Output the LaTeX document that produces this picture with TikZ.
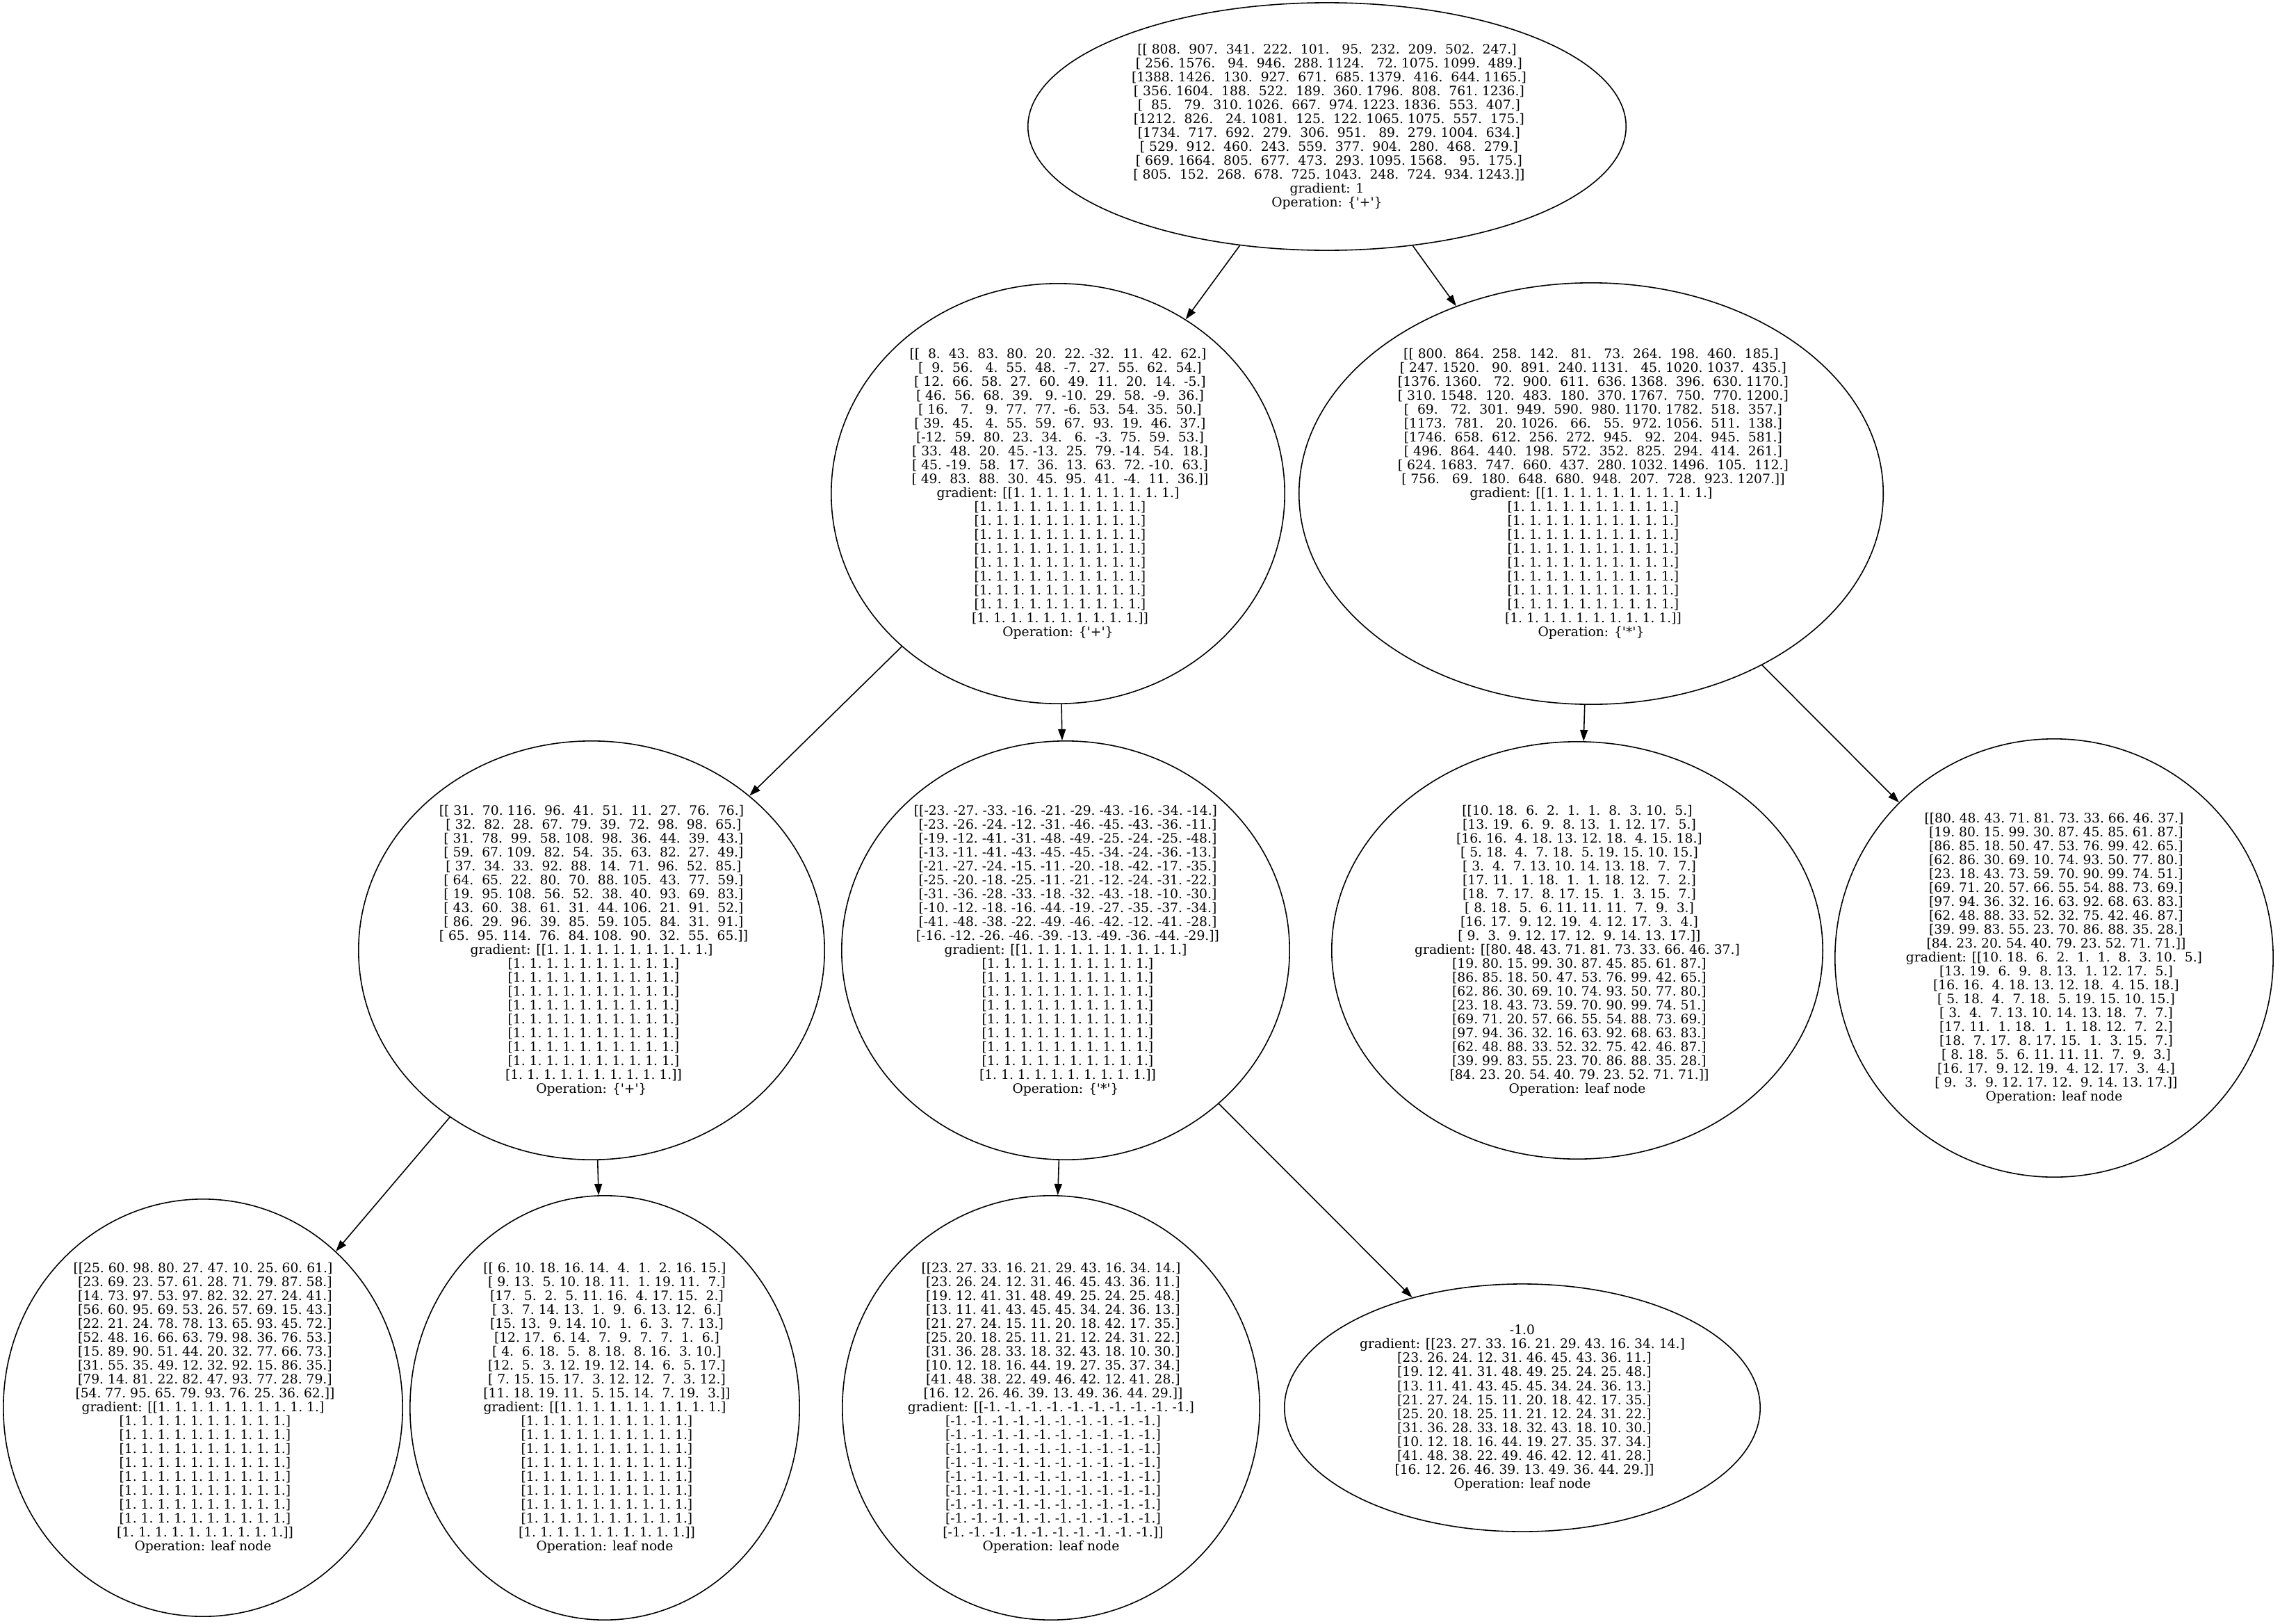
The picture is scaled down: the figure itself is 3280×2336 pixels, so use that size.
\documentclass[tikz,border=0pt]{standalone}
\usepackage{fontspec}
\setmainfont{DejaVu Serif}
\usetikzlibrary{shapes.geometric,arrows.meta}

\newcommand{\onesrow}{1.~1.~1.~1.~1.~1.~1.~1.~1.~1.}
\newcommand{\negrow}{-1.~-1.~-1.~-1.~-1.~-1.~-1.~-1.~-1.~-1.}
\newcommand{\onesgrad}{gradient: [[\onesrow]\\
\ [\onesrow]\\
\ [\onesrow]\\
\ [\onesrow]\\
\ [\onesrow]\\
\ [\onesrow]\\
\ [\onesrow]\\
\ [\onesrow]\\
\ [\onesrow]\\
\ [\onesrow]]}
\newcommand{\negsgrad}{gradient: [[\negrow]\\
\ [\negrow]\\
\ [\negrow]\\
\ [\negrow]\\
\ [\negrow]\\
\ [\negrow]\\
\ [\negrow]\\
\ [\negrow]\\
\ [\negrow]\\
\ [\negrow]]}
\newcommand{\plusop}{Operation: \{\textquotesingle+\textquotesingle\}}
\newcommand{\timesop}{Operation: \{\textquotesingle*\textquotesingle\}}
\newcommand{\leafop}{Operation: leaf node}
\newcommand{\gmat}{[[23.~27.~33.~16.~21.~29.~43.~16.~34.~14.]\\
\ [23.~26.~24.~12.~31.~46.~45.~43.~36.~11.]\\
\ [19.~12.~41.~31.~48.~49.~25.~24.~25.~48.]\\
\ [13.~11.~41.~43.~45.~45.~34.~24.~36.~13.]\\
\ [21.~27.~24.~15.~11.~20.~18.~42.~17.~35.]\\
\ [25.~20.~18.~25.~11.~21.~12.~24.~31.~22.]\\
\ [31.~36.~28.~33.~18.~32.~43.~18.~10.~30.]\\
\ [10.~12.~18.~16.~44.~19.~27.~35.~37.~34.]\\
\ [41.~48.~38.~22.~49.~46.~42.~12.~41.~28.]\\
\ [16.~12.~26.~46.~39.~13.~49.~36.~44.~29.]]}
\newcommand{\imat}{[[10.~18.~~6.~~2.~~1.~~1.~~8.~~3.~10.~~5.]\\
\ [13.~19.~~6.~~9.~~8.~13.~~1.~12.~17.~~5.]\\
\ [16.~16.~~4.~18.~13.~12.~18.~~4.~15.~18.]\\
\ [~5.~18.~~4.~~7.~18.~~5.~19.~15.~10.~15.]\\
\ [~3.~~4.~~7.~13.~10.~14.~13.~18.~~7.~~7.]\\
\ [17.~11.~~1.~18.~~1.~~1.~18.~12.~~7.~~2.]\\
\ [18.~~7.~17.~~8.~17.~15.~~1.~~3.~15.~~7.]\\
\ [~8.~18.~~5.~~6.~11.~11.~11.~~7.~~9.~~3.]\\
\ [16.~17.~~9.~12.~19.~~4.~12.~17.~~3.~~4.]\\
\ [~9.~~3.~~9.~12.~17.~12.~~9.~14.~13.~17.]]}
\newcommand{\jmat}{[[80.~48.~43.~71.~81.~73.~33.~66.~46.~37.]\\
\ [19.~80.~15.~99.~30.~87.~45.~85.~61.~87.]\\
\ [86.~85.~18.~50.~47.~53.~76.~99.~42.~65.]\\
\ [62.~86.~30.~69.~10.~74.~93.~50.~77.~80.]\\
\ [23.~18.~43.~73.~59.~70.~90.~99.~74.~51.]\\
\ [69.~71.~20.~57.~66.~55.~54.~88.~73.~69.]\\
\ [97.~94.~36.~32.~16.~63.~92.~68.~63.~83.]\\
\ [62.~48.~88.~33.~52.~32.~75.~42.~46.~87.]\\
\ [39.~99.~83.~55.~23.~70.~86.~88.~35.~28.]\\
\ [84.~23.~20.~54.~40.~79.~23.~52.~71.~71.]]}

\begin{document}
\begin{tikzpicture}[x=0.01cm, y=-0.01cm, >={Triangle[length=4.6pt,width=3.1pt]},
  val/.style={ellipse, draw, line width=0.45pt, align=center, inner sep=0pt,
    font=\fontsize{5.32pt}{5.69pt}\selectfont},
  arr/.style={->, line width=0.45pt}]
 \useasboundingbox (0,0) rectangle (3280,2336);
 % top: sum of the two branches
 \node[val, minimum width=8.6cm, minimum height=3.56cm] (root) at (1909,182) {[[~808.~~907.~~341.~~222.~~101.~~~95.~~232.~~209.~~502.~~247.]\\
\ [~256.~1576.~~~94.~~946.~~288.~1124.~~~72.~1075.~1099.~~489.]\\
\ [1388.~1426.~~130.~~927.~~671.~~685.~1379.~~416.~~644.~1165.]\\
\ [~356.~1604.~~188.~~522.~~189.~~360.~1796.~~808.~~761.~1236.]\\
\ [~~85.~~~79.~~310.~1026.~~667.~~974.~1223.~1836.~~553.~~407.]\\
\ [1212.~~826.~~~24.~1081.~~125.~~122.~1065.~1075.~~557.~~175.]\\
\ [1734.~~717.~~692.~~279.~~306.~~951.~~~89.~~279.~1004.~~634.]\\
\ [~529.~~912.~~460.~~243.~~559.~~377.~~904.~~280.~~468.~~279.]\\
\ [~669.~1664.~~805.~~677.~~473.~~293.~1095.~1568.~~~95.~~175.]\\
\ [~805.~~152.~~268.~~678.~~725.~1043.~~248.~~724.~~934.~1243.]]\\
gradient: 1\\\plusop};
 % second row
 \node[val, minimum width=6.52cm, minimum height=6.04cm] (plusA) at (1522,710) {[[~~8.~~43.~~83.~~80.~~20.~~22.~-32.~~11.~~42.~~62.]\\
\ [~~9.~~56.~~~4.~~55.~~48.~~-7.~~27.~~55.~~62.~~54.]\\
\ [~12.~~66.~~58.~~27.~~60.~~49.~~11.~~20.~~14.~~-5.]\\
\ [~46.~~56.~~68.~~39.~~~9.~-10.~~29.~~58.~~-9.~~36.]\\
\ [~16.~~~7.~~~9.~~77.~~77.~~-6.~~53.~~54.~~35.~~50.]\\
\ [~39.~~45.~~~4.~~55.~~59.~~67.~~93.~~19.~~46.~~37.]\\
\ [-12.~~59.~~80.~~23.~~34.~~~6.~~-3.~~75.~~59.~~53.]\\
\ [~33.~~48.~~20.~~45.~-13.~~25.~~79.~-14.~~54.~~18.]\\
\ [~45.~-19.~~58.~~17.~~36.~~13.~~63.~~72.~-10.~~63.]\\
\ [~49.~~83.~~88.~~30.~~45.~~95.~~41.~~-4.~~11.~~36.]]\\
\onesgrad\\\plusop};
 \node[val, minimum width=8.4cm, minimum height=6.06cm] (timesB) at (2289,710) {[[~800.~~864.~~258.~~142.~~~81.~~~73.~~264.~~198.~~460.~~185.]\\
\ [~247.~1520.~~~90.~~891.~~240.~1131.~~~45.~1020.~1037.~~435.]\\
\ [1376.~1360.~~~72.~~900.~~611.~~636.~1368.~~396.~~630.~1170.]\\
\ [~310.~1548.~~120.~~483.~~180.~~370.~1767.~~750.~~770.~1200.]\\
\ [~~69.~~~72.~~301.~~949.~~590.~~980.~1170.~1782.~~518.~~357.]\\
\ [1173.~~781.~~~20.~1026.~~~66.~~~55.~~972.~1056.~~511.~~138.]\\
\ [1746.~~658.~~612.~~256.~~272.~~945.~~~92.~~204.~~945.~~581.]\\
\ [~496.~~864.~~440.~~198.~~572.~~352.~~825.~~294.~~414.~~261.]\\
\ [~624.~1683.~~747.~~660.~~437.~~280.~1032.~1496.~~105.~~112.]\\
\ [~756.~~~69.~~180.~~648.~~680.~~948.~~207.~~728.~~923.~1207.]]\\
\onesgrad\\\timesop};
 % third row
 \node[val, minimum width=6.7cm, minimum height=6.02cm] (plusC) at (851,1367) {[[~31.~~70.~116.~~96.~~41.~~51.~~11.~~27.~~76.~~76.]\\
\ [~32.~~82.~~28.~~67.~~79.~~39.~~72.~~98.~~98.~~65.]\\
\ [~31.~~78.~~99.~~58.~108.~~98.~~36.~~44.~~39.~~43.]\\
\ [~59.~~67.~109.~~82.~~54.~~35.~~63.~~82.~~27.~~49.]\\
\ [~37.~~34.~~33.~~92.~~88.~~14.~~71.~~96.~~52.~~85.]\\
\ [~64.~~65.~~22.~~80.~~70.~~88.~105.~~43.~~77.~~59.]\\
\ [~19.~~95.~108.~~56.~~52.~~38.~~40.~~93.~~69.~~83.]\\
\ [~43.~~60.~~38.~~61.~~31.~~44.~106.~~21.~~91.~~52.]\\
\ [~86.~~29.~~96.~~39.~~85.~~59.~105.~~84.~~31.~~91.]\\
\ [~65.~~95.~114.~~76.~~84.~108.~~90.~~32.~~55.~~65.]]\\
\onesgrad\\\plusop};
 \node[val, minimum width=6.44cm, minimum height=6.02cm] (timesD) at (1533,1367) {[[-23.~-27.~-33.~-16.~-21.~-29.~-43.~-16.~-34.~-14.]\\
\ [-23.~-26.~-24.~-12.~-31.~-46.~-45.~-43.~-36.~-11.]\\
\ [-19.~-12.~-41.~-31.~-48.~-49.~-25.~-24.~-25.~-48.]\\
\ [-13.~-11.~-41.~-43.~-45.~-45.~-34.~-24.~-36.~-13.]\\
\ [-21.~-27.~-24.~-15.~-11.~-20.~-18.~-42.~-17.~-35.]\\
\ [-25.~-20.~-18.~-25.~-11.~-21.~-12.~-24.~-31.~-22.]\\
\ [-31.~-36.~-28.~-33.~-18.~-32.~-43.~-18.~-10.~-30.]\\
\ [-10.~-12.~-18.~-16.~-44.~-19.~-27.~-35.~-37.~-34.]\\
\ [-41.~-48.~-38.~-22.~-49.~-46.~-42.~-12.~-41.~-28.]\\
\ [-16.~-12.~-26.~-46.~-39.~-13.~-49.~-36.~-44.~-29.]]\\
\onesgrad\\\timesop};
 \node[val, minimum width=7.06cm, minimum height=6.0cm] (leafI) at (2269,1367) {\imat\\gradient: \jmat\\\leafop};
 \node[val, minimum width=6.3cm, minimum height=6.3cm] (leafJ) at (2955,1378) {\jmat\\gradient: \imat\\\leafop};
 % bottom row
 \node[val, minimum width=5.74cm, minimum height=6.0cm] (leafE) at (292,2025) {[[25.~60.~98.~80.~27.~47.~10.~25.~60.~61.]\\
\ [23.~69.~23.~57.~61.~28.~71.~79.~87.~58.]\\
\ [14.~73.~97.~53.~97.~82.~32.~27.~24.~41.]\\
\ [56.~60.~95.~69.~53.~26.~57.~69.~15.~43.]\\
\ [22.~21.~24.~78.~78.~13.~65.~93.~45.~72.]\\
\ [52.~48.~16.~66.~63.~79.~98.~36.~76.~53.]\\
\ [15.~89.~90.~51.~44.~20.~32.~77.~66.~73.]\\
\ [31.~55.~35.~49.~12.~32.~92.~15.~86.~35.]\\
\ [79.~14.~81.~22.~82.~47.~93.~77.~28.~79.]\\
\ [54.~77.~95.~65.~79.~93.~76.~25.~36.~62.]]\\
\onesgrad\\\leafop};
 \node[val, minimum width=5.6cm, minimum height=6.1cm] (leafF) at (870,2025) {[[~6.~10.~18.~16.~14.~~4.~~1.~~2.~16.~15.]\\
\ [~9.~13.~~5.~10.~18.~11.~~1.~19.~11.~~7.]\\
\ [17.~~5.~~2.~~5.~11.~16.~~4.~17.~15.~~2.]\\
\ [~3.~~7.~14.~13.~~1.~~9.~~6.~13.~12.~~6.]\\
\ [15.~13.~~9.~14.~10.~~1.~~6.~~3.~~7.~13.]\\
\ [12.~17.~~6.~14.~~7.~~9.~~7.~~7.~~1.~~6.]\\
\ [~4.~~6.~18.~~5.~~8.~18.~~8.~16.~~3.~10.]\\
\ [12.~~5.~~3.~12.~19.~12.~14.~~6.~~5.~17.]\\
\ [~7.~15.~15.~17.~~3.~12.~12.~~7.~~3.~12.]\\
\ [11.~18.~19.~11.~~5.~15.~14.~~7.~19.~~3.]]\\
\onesgrad\\\leafop};
 \node[val, minimum width=6.0cm, minimum height=6.1cm] (leafG) at (1512,2025) {\gmat\\\negsgrad\\\leafop};
 \node[val, minimum width=6.84cm, minimum height=3.56cm] (leafH) at (2190,2025) {-1.0\\gradient: \gmat\\\leafop};
 % connectors
 \draw[arr] (root) -- (plusA);
 \draw[arr] (root) -- (timesB);
 \draw[arr] (plusA) -- (plusC);
 \draw[arr] (plusA) -- (timesD);
 \draw[arr] (timesB) -- (leafI);
 \draw[arr] (timesB) -- (leafJ);
 \draw[arr] (plusC) -- (leafE);
 \draw[arr] (plusC) -- (leafF);
 \draw[arr] (timesD) -- (leafG);
 \draw[arr] (timesD) -- (leafH);
\end{tikzpicture}
\end{document}
